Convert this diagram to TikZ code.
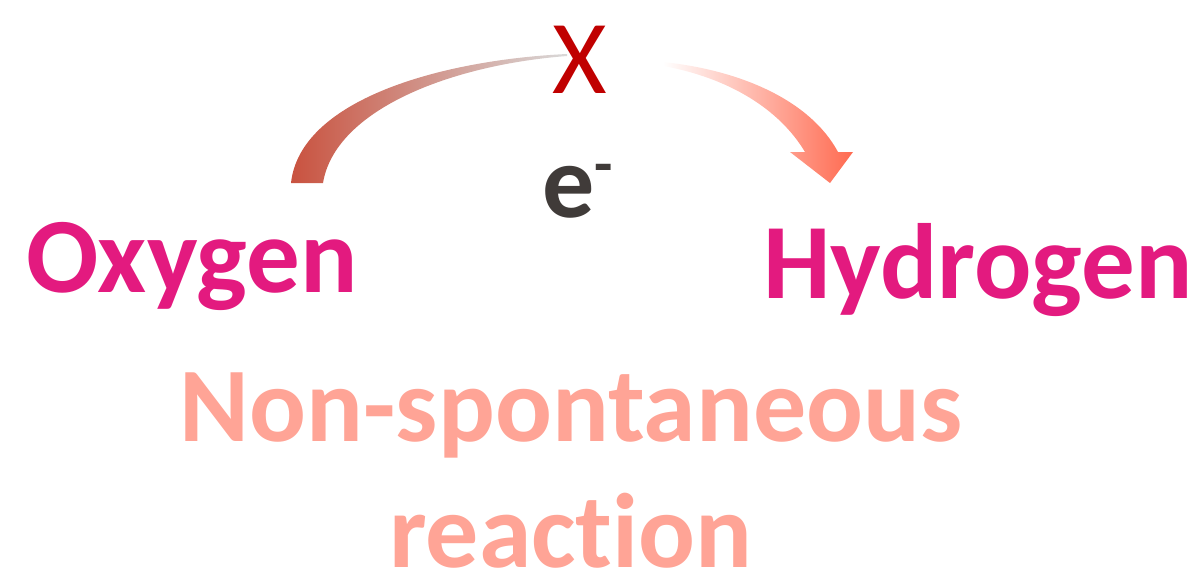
\documentclass[tikz,border=0pt]{standalone}
\usepackage{fontspec}
\setmainfont[Ligatures=NoCommon]{Carlito}
\usepackage{tikz}
\usetikzlibrary{positioning}
\definecolor{rxSpecies}{HTML}{E31A7F}
\definecolor{rxNote}{HTML}{FFA496}
\definecolor{rxBlock}{HTML}{C00000}
\definecolor{rxElectron}{HTML}{403B39}
\definecolor{rxArcStart}{HTML}{C9523F}
\definecolor{rxArcEnd}{HTML}{D9D9D9}
\definecolor{rxArrow}{HTML}{FF6A50}
\tikzset{
  rx diagram/.style={x=1pt, y=-1pt},
  rx species/.style={font=\bfseries\fontsize{107}{120}\selectfont,
    text=rxSpecies, inner sep=0pt, anchor=base west},
  rx note/.style={font=\bfseries\fontsize{106}{126}\selectfont,
    text=rxNote, inner sep=0pt, anchor=base},
  rx block/.style={font=\fontsize{105}{120}\selectfont,
    text=rxBlock, inner sep=0pt, anchor=base},
  rx electron/.style={font=\bfseries\fontsize{104}{120}\selectfont,
    text=rxElectron, inner sep=0pt, anchor=base west}
}

\begin{document}
\begin{tikzpicture}[rx diagram]
\useasboundingbox (0,0) rectangle (1204,574);
% electron path, fading out at the block
\shade[left color=rxArcStart, right color=rxArcEnd]
  (291,183) .. controls (300,100) and (440,60) .. (567,54)
  -- (567,56) .. controls (450,65) and (335,110) .. (323,183) -- cycle;
\shade[left color=white, right color=rxArrow]
  (663,62) .. controls (740,70) and (810,100) .. (838,152)
  -- (853,152) -- (830,183) -- (790,152) -- (805,152)
  .. controls (780,110) and (730,78) .. (663,66) -- cycle;
\node[rx block] (block) at (580,93) {X};
\node[rx electron] (electron) at (542,217)
  {e\raisebox{33pt}{\fontsize{60}{60}\selectfont -}};
\node[rx species] (oxygen) at (26,292) {Oxygen};
\node[rx species] (hydrogen) at (763,298) {Hydrogen};
\node[rx note] (nonspont) at (571,441) {Non-spontaneous};
\node[rx note] (reaction) at (571,567) {reaction};
\end{tikzpicture}
\end{document}
